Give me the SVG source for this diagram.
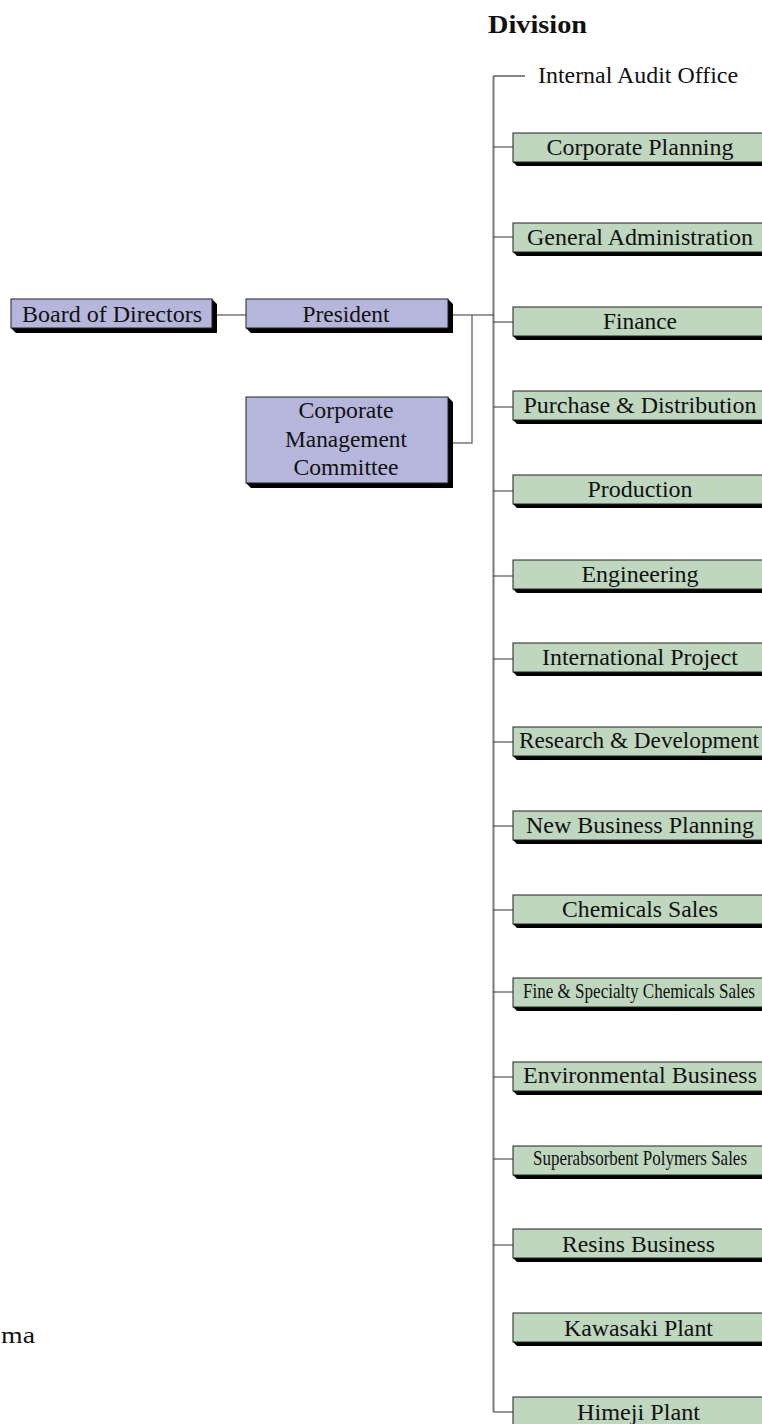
<svg xmlns="http://www.w3.org/2000/svg" width="762" height="1424" viewBox="0 0 762 1424" font-family="Liberation Serif, Tinos, Times New Roman, serif">
<style>
text{fill:#111;font-size:24px}
.c{text-anchor:middle}
.sm{font-size:22px}
.g{fill:#bfd7bf;stroke:#222;stroke-width:1}
.p{fill:#b6b6dc;stroke:#222;stroke-width:1}
.sh{fill:#000}
.ln{stroke:#333;stroke-width:1.2;fill:none}
.vl{stroke:#7a7a7a;stroke-width:2;fill:none}
.vl2{stroke:#777;stroke-width:1.5;fill:none}
</style>
<rect width="762" height="1424" fill="#fff"/>
<g id="connectors">
<path class="vl" d="M493.5,76 V1412"/>
<path class="ln" d="M493.5,76 H525"/>
<path class="ln" d="M212,315 H246"/>
<path class="ln" d="M448,315 H493.5"/>
<path class="vl2" d="M472,315 V443 H448"/>
<path class="ln" d="M493.5,147 H513 M493.5,237 H513 M493.5,322 H513 M493.5,407 H513 M493.5,491 H513 M493.5,576 H513 M493.5,659 H513 M493.5,742 H513 M493.5,826 H513 M493.5,910 H513 M493.5,992 H513 M493.5,1077 H513 M493.5,1159 H513 M493.5,1245 H513 M493.5,1412 H513"/>
</g>
<text id="division" x="488" y="33" font-weight="bold" style="font-size:25px" textLength="99" lengthAdjust="spacingAndGlyphs">Division</text>
<g id="internal-audit"><text x="538" y="83" textLength="200" lengthAdjust="spacingAndGlyphs">Internal Audit Office</text></g>
<g id="board">
<polygon class="sh" points="11,328 16,333 217,333 217,304 212,299 212,328"/>
<rect class="p" x="11" y="299" width="201" height="29"/>
<text class="c" x="112" y="322" textLength="180" lengthAdjust="spacingAndGlyphs">Board of Directors</text>
</g>
<g id="president">
<polygon class="sh" points="246,328 251,333 453,333 453,304 448,299 448,328"/>
<rect class="p" x="246" y="299" width="202" height="29"/>
<text class="c" x="346" y="322" textLength="87" lengthAdjust="spacingAndGlyphs">President</text>
</g>
<g id="cmc">
<polygon class="sh" points="246,483 251,488 453,488 453,402 448,397 448,483"/>
<rect class="p" x="246" y="397" width="202" height="86"/>
<text class="c" x="346" y="418" textLength="95" lengthAdjust="spacingAndGlyphs">Corporate</text>
<text class="c" x="346" y="447" textLength="122" lengthAdjust="spacingAndGlyphs">Management</text>
<text class="c" x="346" y="475" textLength="105" lengthAdjust="spacingAndGlyphs">Committee</text>
</g>
<defs>
<g id="gbox">
<polygon class="sh" points="513,29 517,33 772,33 772,4 768,0 768,29"/>
<rect class="g" x="513" y="0" width="255" height="29"/>
</g>
</defs>
<g id="corporate-planning"><use href="#gbox" y="133"/><text class="c" x="640" y="155" textLength="187" lengthAdjust="spacingAndGlyphs">Corporate Planning</text></g>
<g id="general-administration"><use href="#gbox" y="223"/><text class="c" x="640" y="245" textLength="226" lengthAdjust="spacingAndGlyphs">General Administration</text></g>
<g id="finance"><use href="#gbox" y="307"/><text class="c" x="640" y="329" textLength="74" lengthAdjust="spacingAndGlyphs">Finance</text></g>
<g id="purchase"><use href="#gbox" y="391"/><text class="c" x="640" y="413" textLength="233" lengthAdjust="spacingAndGlyphs">Purchase &amp; Distribution</text></g>
<g id="production"><use href="#gbox" y="475"/><text class="c" x="640" y="497" textLength="105" lengthAdjust="spacingAndGlyphs">Production</text></g>
<g id="engineering"><use href="#gbox" y="560"/><text class="c" x="640" y="582" textLength="117" lengthAdjust="spacingAndGlyphs">Engineering</text></g>
<g id="international-project"><use href="#gbox" y="643"/><text class="c" x="640" y="665" textLength="196" lengthAdjust="spacingAndGlyphs">International Project</text></g>
<g id="research"><use href="#gbox" y="727"/><text class="c" x="639" y="748" textLength="240" lengthAdjust="spacingAndGlyphs">Research &amp; Development</text></g>
<g id="new-business"><use href="#gbox" y="811"/><text class="c" x="640" y="833" textLength="228" lengthAdjust="spacingAndGlyphs">New Business Planning</text></g>
<g id="chemicals-sales"><use href="#gbox" y="895"/><text class="c" x="640" y="917" textLength="156" lengthAdjust="spacingAndGlyphs">Chemicals Sales</text></g>
<g id="fine-specialty"><use href="#gbox" y="978"/><text class="c sm" x="639" y="998" textLength="232" lengthAdjust="spacingAndGlyphs">Fine &amp; Specialty Chemicals Sales</text></g>
<g id="environmental"><use href="#gbox" y="1062"/><text class="c" x="640" y="1083" textLength="234" lengthAdjust="spacingAndGlyphs">Environmental Business</text></g>
<g id="superabsorbent"><use href="#gbox" y="1146"/><text class="c sm" x="640" y="1165" textLength="214" lengthAdjust="spacingAndGlyphs">Superabsorbent Polymers Sales</text></g>
<g id="resins"><use href="#gbox" y="1229"/><text class="c" x="638.5" y="1252" textLength="153" lengthAdjust="spacingAndGlyphs">Resins Business</text></g>
<g id="kawasaki"><use href="#gbox" y="1313"/><text class="c" x="638.5" y="1336" textLength="149" lengthAdjust="spacingAndGlyphs">Kawasaki Plant</text></g>
<g id="himeji"><use href="#gbox" y="1397"/><text class="c" x="638.5" y="1420" textLength="123" lengthAdjust="spacingAndGlyphs">Himeji Plant</text></g>
<text x="1" y="1343" textLength="34" lengthAdjust="spacingAndGlyphs">ma</text>
</svg>
